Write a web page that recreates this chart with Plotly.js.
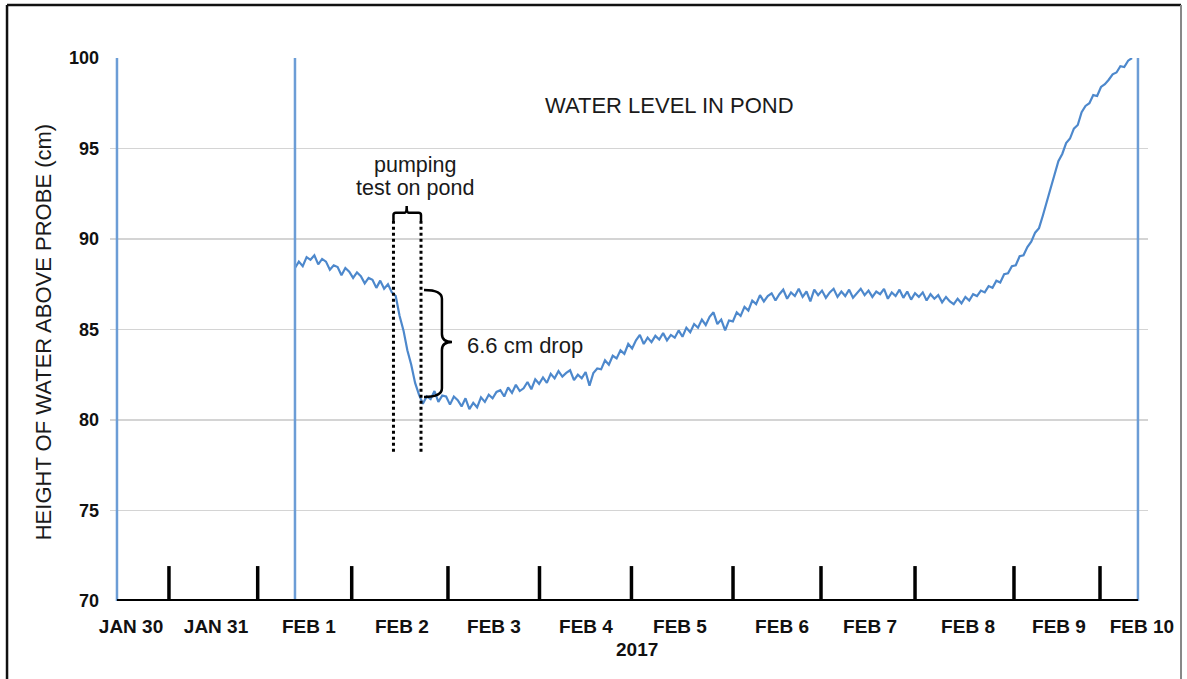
<!DOCTYPE html>
<html><head><meta charset="utf-8">
<script src="https://cdn.plot.ly/plotly-3.0.1.min.js"></script>
<style>html,body{margin:0;padding:0;background:#fff}#chart{width:1187px;height:679px}</style>
</head><body><div id="chart"></div>
<script>
// x unit: days since JAN 30 00:00 (2017)
const dayLabels = ['JAN 30','JAN 31','FEB 1','FEB 2','FEB 3','FEB 4','FEB 5','FEB 6','FEB 7','FEB 8','FEB 9','FEB 10'];
const labelDays = [0.592, 1.506, 2.505, 3.505, 4.495, 5.484, 6.495, 7.592, 8.538, 9.592, 10.570, 11.462];
const tickMarkDays = [1.000, 1.954, 2.965, 4.000, 4.984, 5.973, 7.065, 8.011, 9.022, 10.086, 11.011];
const guideLineDays = [0.441, 2.355, 11.419];
const yearLabel = '2017';

// hourly water level readings (cm), starting FEB 1 ~08:30
const startDay = 2.355;
const stepDay = 1 / 24;
const level = [
88.4,88.75,88.5,89.0,88.85,89.1,88.6,88.9,88.75,88.3,
88.55,88.45,88.0,88.4,88.2,87.85,88.15,87.95,87.55,87.85,
87.75,87.3,87.7,87.25,87.5,87.05,86.85,85.75,84.95,83.85,
83.05,82.05,81.4,80.9,81.3,81.15,81.6,81.0,81.35,81.3,
80.85,81.3,81.1,80.75,81.2,80.6,80.95,80.7,81.25,81.0,
81.4,81.2,81.55,81.65,81.3,81.8,81.5,81.95,81.6,81.75,
82.1,81.7,82.25,82.0,82.35,82.05,82.55,82.3,82.7,82.4,
82.6,82.75,82.2,82.5,82.3,82.65,81.9,82.6,82.85,82.8,
83.3,83.05,83.55,83.4,83.85,83.65,84.2,83.95,84.4,84.7,
84.2,84.55,84.3,84.65,84.45,84.8,84.4,84.7,84.55,84.95,
84.6,85.1,84.85,85.3,85.1,85.55,85.25,85.7,85.95,85.3,
85.55,84.95,85.5,85.45,85.95,85.75,86.25,86.05,86.6,86.4,
86.9,86.55,86.85,87.0,86.6,86.95,87.2,86.7,87.05,86.85,
87.25,86.8,87.1,86.55,87.2,86.9,87.15,86.75,87.05,87.25,
86.8,87.1,86.85,87.2,86.75,87.0,87.25,86.9,87.15,86.8,
87.1,86.95,87.25,86.7,87.05,86.85,87.2,86.75,87.1,86.65,
87.0,86.8,87.05,86.6,86.95,86.7,86.9,86.5,86.8,86.55,
86.4,86.7,86.45,86.8,86.6,86.95,86.85,87.15,87.05,87.4,
87.3,87.7,87.6,88.05,88.1,88.5,88.55,89.05,89.1,89.55,
89.85,90.35,90.6,91.3,92.0,92.8,93.55,94.3,94.7,95.3,
95.55,96.1,96.3,97.0,97.35,97.5,97.95,97.9,98.4,98.55,
98.8,99.1,99.2,99.55,99.5,99.85,100.0
];

const pumpStartDay = 3.414, pumpEndDay = 3.710;

const FONT = 'Liberation Sans, Arial, Helvetica, sans-serif';

const shapes = [];
// frame
shapes.push({type:'line', xref:'paper', yref:'paper', x0:-0.0992, x1:-0.0992, y0:1.0976, y1:-0.15, line:{color:'#111', width:2.5}});
shapes.push({type:'line', xref:'paper', yref:'paper', x0:-0.0992, x1:1.0318, y0:1.0976, y1:1.0976, line:{color:'#111', width:2.5}});
shapes.push({type:'line', xref:'paper', yref:'paper', x0:1.0318, x1:1.0318, y0:1.0976, y1:-0.15, line:{color:'#888', width:2}});
// blue guide lines
guideLineDays.forEach(d => shapes.push({type:'line', xref:'x', yref:'y', x0:d, x1:d, y0:70, y1:100, line:{color:'#6c9dd6', width:2.5}, layer:'above'}));
// x axis black line
shapes.push({type:'line', xref:'x', yref:'y', x0:guideLineDays[0], x1:guideLineDays[2], y0:70, y1:70, line:{color:'#000', width:4}, layer:'above'});
// tick marks
tickMarkDays.forEach(d => shapes.push({type:'line', xref:'x', yref:'y', x0:d, x1:d, y0:70, y1:71.93, line:{color:'#000', width:3.5}, layer:'above'}));
// dotted pumping lines
[pumpStartDay, pumpEndDay].forEach(d => shapes.push({type:'line', xref:'x', yref:'y', x0:d, x1:d, y0:78.25, y1:91.0, line:{color:'#000', width:3, dash:'dot'}, layer:'above'}));
// top bracket
shapes.push({type:'path', xref:'x', yref:'y', layer:'above', line:{color:'#000', width:2.5},
  path:'M 3.414,91.0 L 3.414,91.32 Q 3.414,91.45 3.44,91.45 L 3.535,91.45 Q 3.556,91.45 3.556,91.82 Q 3.556,91.45 3.577,91.45 L 3.684,91.45 Q 3.710,91.45 3.710,91.32 L 3.710,91.0'});
// curly brace
shapes.push({type:'path', xref:'x', yref:'y', layer:'above', line:{color:'#000', width:2.5},
  path:'M 3.742,87.18 Q 3.935,87.18 3.935,86.7 L 3.935,84.75 Q 3.935,84.31 4.043,84.31 Q 3.935,84.31 3.935,83.87 L 3.935,81.75 Q 3.935,81.27 3.742,81.27'});

const annotations = [
  {text:'WATER LEVEL IN POND', xref:'x', yref:'y', x:6.387, y:97.35, showarrow:false, xanchor:'center', yanchor:'middle', font:{family:FONT, size:22, color:'#1a1a1a'}},
  {text:'pumping', xref:'x', yref:'y', x:3.645, y:94.09, showarrow:false, xanchor:'center', yanchor:'middle', font:{family:FONT, size:21.5, color:'#1a1a1a'}},
  {text:'test on pond', xref:'x', yref:'y', x:3.645, y:92.82, showarrow:false, xanchor:'center', yanchor:'middle', font:{family:FONT, size:21.5, color:'#1a1a1a'}},
  {text:'6.6 cm drop', xref:'x', yref:'y', x:4.183, y:84.14, showarrow:false, xanchor:'left', yanchor:'middle', font:{family:FONT, size:22, color:'#1a1a1a'}},
  {text:yearLabel, xref:'x', yref:'paper', x:6.032, y:-0.0884, showarrow:false, xanchor:'center', yanchor:'middle', font:{family:FONT, size:19, color:'#111', weight:'bold'}},
  {text:'HEIGHT OF WATER ABOVE PROBE (cm)', xref:'paper', yref:'paper', x:-0.0645, y:0.495, textangle:-90, showarrow:false, xanchor:'center', yanchor:'middle', font:{family:FONT, size:22, color:'#1a1a1a'}}
];

const trace = {type:'scatter', mode:'lines', x0:startDay, dx:stepDay, y:level,
  line:{color:'#4d88cc', width:2.2}, hoverinfo:'skip'};

const layout = {
  width:1187, height:679,
  margin:{l:110, r:39, t:58, b:78, pad:0},
  paper_bgcolor:'#fff', plot_bgcolor:'#fff',
  showlegend:false,
  xaxis:{range:[0.366, 11.527], showgrid:false, zeroline:false, showline:false,
    tickmode:'array', tickvals:labelDays, ticktext:dayLabels, ticks:'', ticklabelstandoff:12,
    tickfont:{family:FONT, size:19, color:'#111', weight:'bold'}, fixedrange:true},
  yaxis:{range:[70,100], dtick:5, tick0:70, showgrid:true, gridcolor:'#d4d4d4', gridwidth:1.5,
    zeroline:false, showline:false, ticks:'', ticklabelstandoff:10,
    tickfont:{family:FONT, size:18, color:'#111', weight:'bold'}, fixedrange:true},
  shapes:shapes,
  annotations:annotations
};

Plotly.newPlot('chart', [trace], layout, {displayModeBar:false, staticPlot:true});
</script>
</body></html>
